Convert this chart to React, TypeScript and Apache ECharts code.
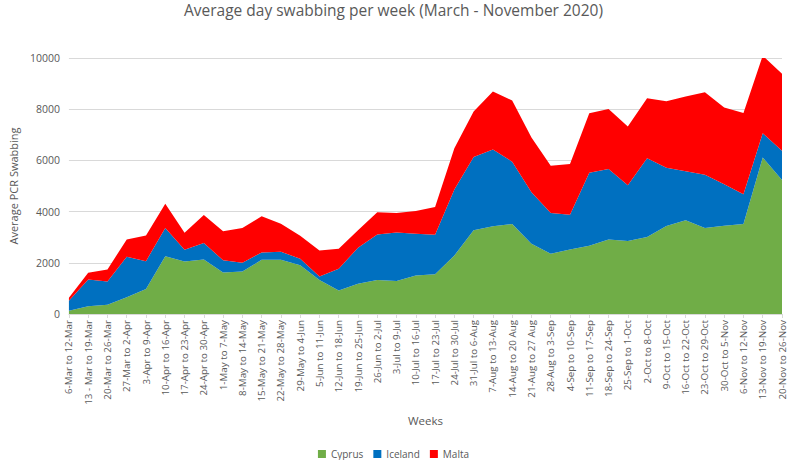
import React, { useEffect, useRef } from "react";
import * as echarts from "echarts";

const weeks = [
  "6-Mar to 12-Mar", "13 - Mar to 19-Mar", "20-Mar to 26-Mar", "27-Mar to 2-Apr",
  "3-Apr to 9-Apr", "10-Apr to 16-Apr", "17-Apr to 23-Apr", "24-Apr to 30-Apr",
  "1-May to 7-May", "8-May to 14-May", "15-May to 21-May", "22-May to 28-May",
  "29-May to 4-Jun", "5-Jun to 11-Jun", "12-Jun to 18-Jun", "19-Jun to 25-Jun",
  "26-Jun to 2-Jul", "3-Jul to 9-Jul", "10-Jul to 16-Jul", "17-Jul to 23-Jul",
  "24-Jul to 30-Jul", "31-Jul to 6-Aug", "7-Aug to 13-Aug", "14-Aug to 20 Aug",
  "21-Aug to 27 Aug", "28-Aug to 3-Sep", "4-Sep to 10-Sep", "11-Sep to 17-Sep",
  "18-Sep to 24-Sep", "25-Sep to 1-Oct", "2-Oct to 8-Oct", "9-Oct to 15-Oct",
  "16-Oct to 22-Oct", "23-Oct to 29-Oct", "30-Oct to 5-Nov", "6-Nov to 12-Nov",
  "13-Nov to 19-Nov", "20-Nov to 26-Nov",
];

const cyprus = [
  130, 300, 366, 650, 980, 2260, 2050, 2130, 1620, 1660, 2120, 2120, 1900, 1330,
  915, 1180, 1330, 1290, 1500, 1555, 2290, 3270, 3425, 3515, 2745, 2350, 2520,
  2665, 2915, 2850, 3005, 3440, 3660, 3360, 3450, 3515, 6115, 5230,
];

const iceland = [
  390, 1050, 900, 1585, 1085, 1100, 460, 640, 480, 340, 285, 310, 260, 130, 850,
  1410, 1780, 1890, 1635, 1545, 2570, 2860, 3005, 2435, 2015, 1600, 1360, 2850,
  2745, 2180, 3075, 2270, 1920, 2080, 1620, 1165, 945, 1150,
];

const malta = [
  110, 260, 470, 680, 1005, 950, 665, 1100, 1130, 1360, 1410, 1100, 900, 1020,
  785, 680, 860, 765, 890, 1080, 1610, 1780, 2260, 2390, 2130, 1840, 1975, 2325,
  2350, 2290, 2350, 2600, 2920, 3225, 2995, 3175, 3030, 3005,
];

const yTicks = { min: 0, max: 10000, interval: 2000 };

const FONT = "'Open Sans', 'Noto Sans', sans-serif";
const GRAY = "#595959";

export default function App() {
  const ref = useRef<HTMLDivElement>(null);
  useEffect(() => {
    if (!ref.current) return;
    const chart = echarts.init(ref.current, undefined, { renderer: "svg" });
    const mk = (name: string, data: number[], color: string) => ({
      name,
      type: "line",
      stack: "total",
      data,
      symbol: "none",
      lineStyle: { width: 0, color },
      itemStyle: { color },
      areaStyle: { color, opacity: 1 },
    });
    chart.setOption({
      animation: false,
      textStyle: { fontFamily: FONT },
      title: {
        text: "Average day swabbing per week (March - November 2020)",
        left: "center",
        top: -3,
        textStyle: { fontFamily: FONT, fontSize: 15.5, fontWeight: "normal", color: GRAY },
      },
      legend: {
        bottom: -4,
        left: "center",
        itemWidth: 8,
        itemHeight: 8,
        itemGap: 10,
        icon: "rect",
        textStyle: { fontFamily: FONT, fontSize: 10, color: GRAY },
        data: ["Cyprus", "Iceland", "Malta"],
      },
      grid: { left: 55, right: 4, top: 58, bottom: 146, containLabel: false },
      xAxis: {
        type: "category",
        data: weeks,
        boundaryGap: false,
        name: "Weeks",
        nameLocation: "middle",
        nameGap: 100,
        nameTextStyle: { fontFamily: FONT, fontSize: 11.5, color: GRAY },
        axisLine: { lineStyle: { color: "#d9d9d9" } },
        axisTick: { show: true, length: 4, lineStyle: { color: "#d9d9d9" } },
        axisLabel: {
          rotate: 90,
          interval: 0,
          fontFamily: FONT,
          fontSize: 9.8,
          color: GRAY,
          margin: 6,
        },
      },
      yAxis: {
        type: "value",
        min: yTicks.min,
        max: yTicks.max,
        interval: yTicks.interval,
        name: "Average PCR Swabbing",
        nameLocation: "middle",
        nameGap: 46,
        nameRotate: 90,
        nameTextStyle: { fontFamily: FONT, fontSize: 11, color: GRAY },
        axisLine: { show: false },
        axisTick: { show: false },
        axisLabel: {
          fontFamily: FONT,
          fontSize: 10.5,
          color: GRAY,
          margin: 9,
          formatter: (v: number) => String(v),
        },
        splitLine: { lineStyle: { color: "#d9d9d9" } },
      },
      series: [
        mk("Cyprus", cyprus, "#70AD47"),
        mk("Iceland", iceland, "#0070C0"),
        mk("Malta", malta, "#FF0000"),
      ],
    });
    return () => chart.dispose();
  }, []);
  return <div ref={ref} style={{ width: 787, height: 460, position: "absolute", left: 0, top: 0 }} />;
}
